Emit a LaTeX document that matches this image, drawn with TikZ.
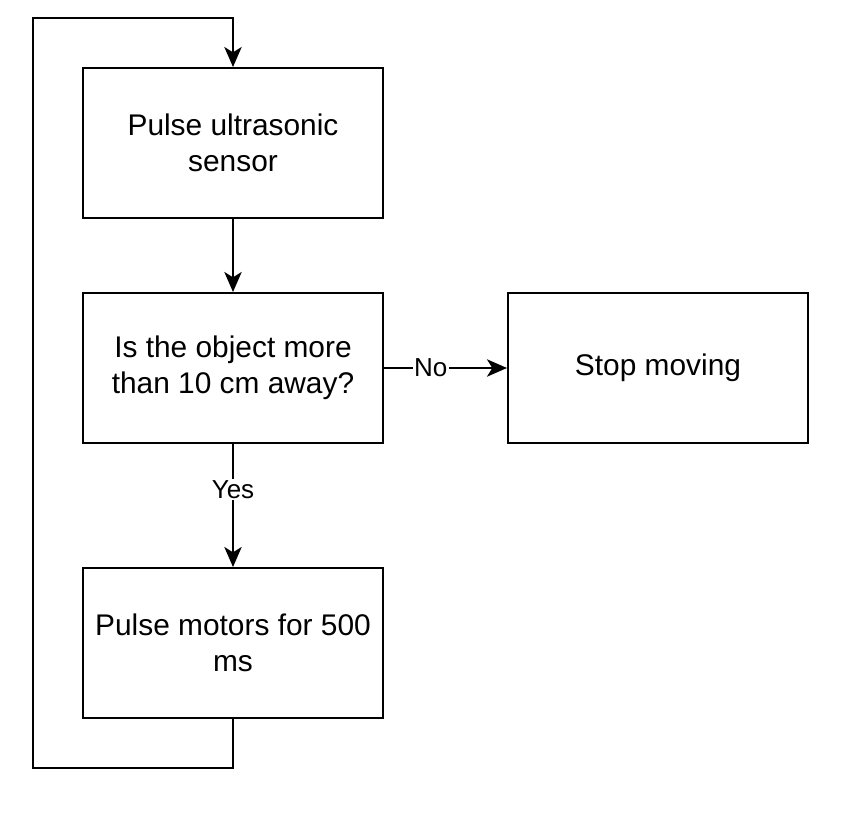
\documentclass[tikz,border=0pt]{standalone}
\usepackage{fontspec}
\setmainfont{Liberation Sans}
\usetikzlibrary{arrows.meta}
\begin{document}
\begin{tikzpicture}[x=0.75pt,y=-0.75pt]
    \tikzstyle{block} = [draw,line width=1.5pt,minimum width=225pt,minimum height=112.5pt,align=center,font=\fontsize{22.4}{27}\selectfont,inner sep=0pt]
    \tikzstyle{flow} = [line width=1.5pt,-{Stealth[length=15pt,width=13pt,inset=4pt]}]
    \tikzstyle{lbl} = [fill=white,font=\fontsize{19.5}{22}\selectfont,inner sep=1pt]
        \useasboundingbox (0,0) rectangle (847,820);
        \node[block] (pulse) at (233,143) {Pulse ultrasonic\\sensor};
        \node[block] (check) at (233,368) {Is the object more\\than 10 cm away?};
        \node[block] (stop) at (658,368) {Stop moving};
        \node[block] (motors) at (233,643) {Pulse motors for 500\\ms};
        \coordinate (loopA) at (233,768);
        \coordinate (loopB) at (33,768);
        \coordinate (loopC) at (33,18);
        \coordinate (loopD) at (233,18);
        \draw[flow] (pulse) -- (check);
        \draw[flow] (check) -- node[lbl,pos=0.38] {No} (stop);
        \draw[flow] (check) -- node[lbl,pos=0.37] {Yes} (motors);
        \draw[flow] (motors.south) -- (loopA) -- (loopB) -- (loopC) -- (loopD) -- (pulse.north);
    \end{tikzpicture}
\end{document}
